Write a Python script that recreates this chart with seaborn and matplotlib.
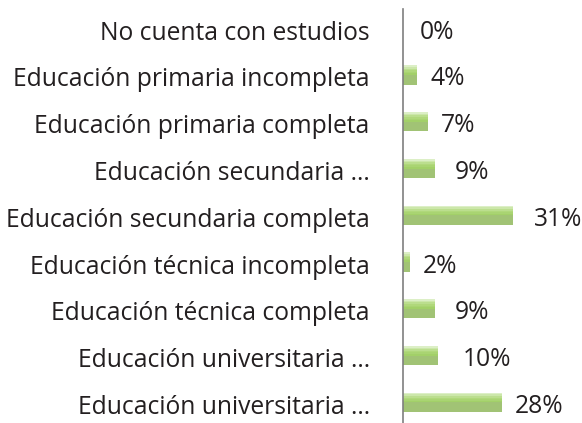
import numpy as np
import pandas as pd
import matplotlib
matplotlib.use("Agg")
import matplotlib.pyplot as plt
import matplotlib.transforms as mtransforms
import seaborn as sns
from matplotlib.colors import LinearSegmentedColormap

categories = [
    "No cuenta con estudios",
    "Educación primaria incompleta",
    "Educación primaria completa",
    "Educación secundaria ...",
    "Educación secundaria completa",
    "Educación técnica incompleta",
    "Educación técnica completa",
    "Educación universitaria ...",
    "Educación universitaria ...",
]
values = [0, 4, 7, 9, 31, 2, 9, 10, 28]
labels = ["0%", "4%", "7%", "9%", "31%", "2%", "9%", "10%", "28%"]

# gap (px) between bar end and its label, as placed in the original
label_gap = [17, 13, 13, 20, 21, 13, 20, 24, 13]

sns.set_theme(style="white")
plt.rcParams["font.family"] = ["Open Sans", "DejaVu Sans"]

df = pd.DataFrame({"cat": range(len(categories)), "val": values})

fig = plt.figure(figsize=(5.82, 4.23), dpi=100)
ax = fig.add_axes([403 / 582, 0, 172 / 582, 414 / 423])

sns.barplot(data=df, x="val", y="cat", orient="h", color="#a2d068",
            width=0.41, ax=ax, linewidth=0)

# light band at the top of every bar (y axis is inverted: smaller y = higher)
grad = LinearSegmentedColormap.from_list("g", ["#dcefc6", "#b3da80", "#a2d068"])
n_strips = 12
for p in list(ax.patches):
    x0, y0 = p.get_x(), p.get_y()
    w, h = p.get_width(), p.get_height()
    if w <= 0:
        continue
    dh = h / n_strips
    for k in range(n_strips // 2):
        ax.barh(y0 + k * dh, w, height=dh * 1.05, left=x0, align="edge",
                color=grad(min(1.0, k / (n_strips / 2 - 1))), linewidth=0,
                zorder=p.get_zorder() + 0.1)

ax.set_xlim(0, 48.6)
ax.set_ylim(8.44, -0.41)
ax.set_yticks(range(len(categories)))
ax.set_yticklabels(categories, fontsize=17.7, color="#231f20")
ax.tick_params(axis="y", length=0, pad=24)
shift = mtransforms.ScaledTranslation(0, -2 / 100, fig.dpi_scale_trans)
for lbl in ax.get_yticklabels():
    lbl.set_transform(lbl.get_transform() + shift)
ax.set_xticks([])
ax.set_xlabel("")
ax.set_ylabel("")
for s in ["top", "right", "bottom"]:
    ax.spines[s].set_visible(False)
ax.spines["left"].set_color("#7f7f7f")
ax.spines["left"].set_linewidth(1.2)

for i, (v, t) in enumerate(zip(values, labels)):
    ax.annotate(t, (v, i), xytext=(label_gap[i], -4), textcoords="offset pixels",
                ha="left", va="center", fontsize=17.7, color="#231f20")

fig.savefig("out.png", dpi=100)
